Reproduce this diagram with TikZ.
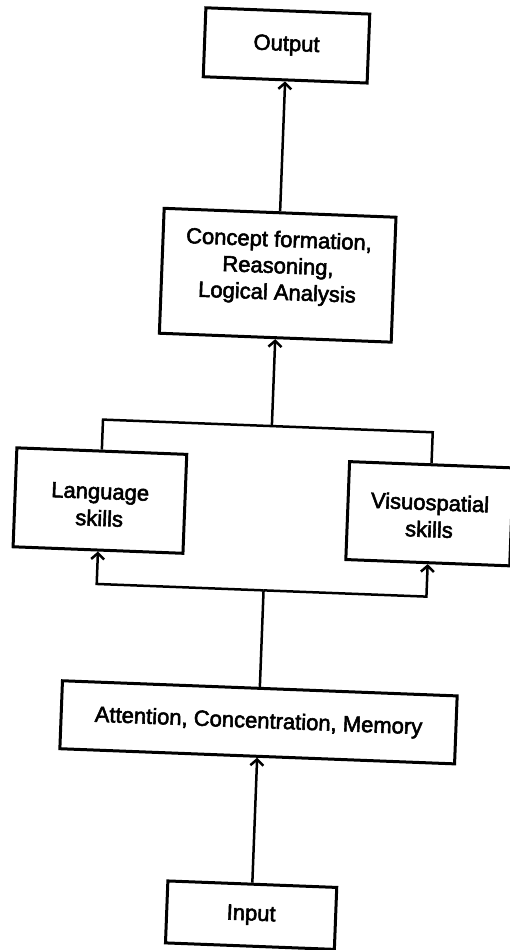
\documentclass[tikz,border=0pt]{standalone}
\usepackage{fontspec}
\setmainfont{Liberation Sans}[FakeBold=2.5]
\usetikzlibrary{arrows.meta}
\begin{document}
\begin{tikzpicture}[x=1pt,y=-1pt,
  box/.style={draw=black,line width=3pt,inner sep=0pt,align=center,font=\fontsize{22}{27}\selectfont},
  link/.style={draw=black,line width=2.5pt},
  arr/.style={link,-{Straight Barb[length=6pt,width=13pt,line width=2.5pt]}}]
\path[use as bounding box] (0,0) rectangle (510,950);
\path[fill=white,draw=none] (0,0) rectangle (510,950);
\begin{scope}[rotate around={-2.2:(255,475)},transform shape]
\node[box,minimum width=164pt,minimum height=69pt] (out) at (270,44.5) {Output};
\node[box,minimum width=232pt,minimum height=125pt,font=\fontsize{22}{26.5}\selectfont] (concept) at (270,274.5) {Concept formation,\\Reasoning,\\Logical Analysis\rule[-20pt]{0pt}{0pt}};
\node[box,minimum width=170pt,minimum height=99pt] (lang) at (101,506.5) {\rule{0pt}{24pt}Language\\skills};
\node[box,minimum width=164pt,minimum height=98pt] (visuo) at (431,507) {\rule{0pt}{20pt}Visuospatial\\skills};
\node[box,minimum width=395pt,minimum height=68pt] (att) at (268,722) {Attention, Concentration, Memory};
\node[box,minimum width=169pt,minimum height=62pt] (inp) at (268,915) {Input};
\coordinate (merge) at (270,425.5);
\coordinate (split) at (268,590);
\draw[link] (lang.north) |- (merge) -| (visuo.north);
\draw[arr] (merge) -- (concept.south);
\draw[arr] (concept.north) -- (out.south);
\draw[link] (att.north) -- (split);
\draw[arr] (split) -| (lang.south);
\draw[arr] (split) -| (visuo.south);
\draw[arr] (inp.north) -- (att.south);
\end{scope}
\end{tikzpicture}
\end{document}
